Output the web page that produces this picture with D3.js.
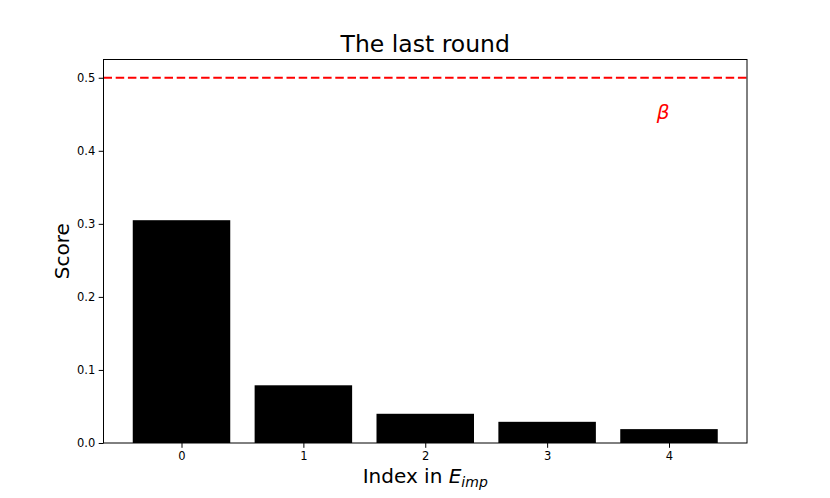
<!DOCTYPE html>
<html>
<head>
<meta charset="utf-8">
<script src="https://cdn.jsdelivr.net/npm/d3@7"></script>
<style>
  body { margin: 0; background: #fff; }
  text { font-family: "DejaVu Sans", sans-serif; }
</style>
</head>
<body>
<div id="chart"></div>
<script>
// bar data
const indices = [0, 1, 2, 3, 4];
const scores = [0.305, 0.079, 0.040, 0.029, 0.019];
const yTicks = [0.0, 0.1, 0.2, 0.3, 0.4, 0.5];
const beta = 0.5;

const W = 830, H = 498;
const margin = {top: 59.5, right: 83, bottom: 55, left: 103.5};

const svg = d3.select("#chart").append("svg")
  .attr("width", W).attr("height", H);

const x = d3.scaleLinear().domain([-0.64, 4.64]).range([margin.left, W - margin.right]);
const y = d3.scaleLinear().domain([0, 0.525]).range([H - margin.bottom, margin.top]);

// bars, width 0.8 in data units
svg.append("g").selectAll("rect")
  .data(indices)
  .join("rect")
    .attr("x", d => x(d - 0.4))
    .attr("width", d => x(d + 0.4) - x(d - 0.4))
    .attr("y", (d, i) => y(scores[i]))
    .attr("height", (d, i) => y(0) - y(scores[i]))
    .attr("fill", "#000");

// threshold line
svg.append("line")
  .attr("x1", x.range()[0]).attr("x2", x.range()[1])
  .attr("y1", y(beta)).attr("y2", y(beta))
  .attr("stroke", "red").attr("stroke-width", 1.8)
  .attr("stroke-dasharray", "8.5,3.7");

svg.append("text")
  .attr("x", x(3.9)).attr("y", y(0.443))
  .attr("fill", "red").attr("font-size", 20)
  .attr("font-style", "italic")
  .text("β");

// axes
const xAxis = svg.append("g")
  .attr("transform", `translate(0,${y(0)})`)
  .call(d3.axisBottom(x).tickValues(indices).tickFormat(d3.format("d")).tickSize(4.8).tickPadding(4));
const yAxis = svg.append("g")
  .attr("transform", `translate(${x.range()[0]},0)`)
  .call(d3.axisLeft(y).tickValues(yTicks).tickFormat(d3.format(".1f")).tickSize(4.8).tickPadding(3.5));

[xAxis, yAxis].forEach(g => {
  g.select(".domain").remove();
  g.selectAll("text").attr("font-size", 11.5).attr("font-family", "DejaVu Sans").attr("fill", "#000");
  g.selectAll("line").attr("stroke", "#000").attr("stroke-width", 1);
});

// frame
svg.append("rect")
  .attr("x", x.range()[0]).attr("y", y.range()[1])
  .attr("width", x.range()[1] - x.range()[0])
  .attr("height", y.range()[0] - y.range()[1])
  .attr("fill", "none").attr("stroke", "#000").attr("stroke-width", 1);

// title and labels
svg.append("text")
  .attr("x", (x.range()[0] + x.range()[1]) / 2).attr("y", 52)
  .attr("text-anchor", "middle").attr("font-size", 23.5)
  .text("The last round");

svg.append("text")
  .attr("transform", `translate(69,${(y.range()[0] + y.range()[1]) / 2}) rotate(-90)`)
  .attr("text-anchor", "middle").attr("font-size", 20)
  .text("Score");

const xl = svg.append("text")
  .attr("x", (x.range()[0] + x.range()[1]) / 2).attr("y", 483)
  .attr("text-anchor", "middle").attr("font-size", 20);
xl.append("tspan").text("Index in ");
xl.append("tspan").attr("font-style", "italic").text("E");
xl.append("tspan").attr("font-style", "italic").attr("font-size", 14).attr("dy", 4).text("imp");
</script>
</body>
</html>
